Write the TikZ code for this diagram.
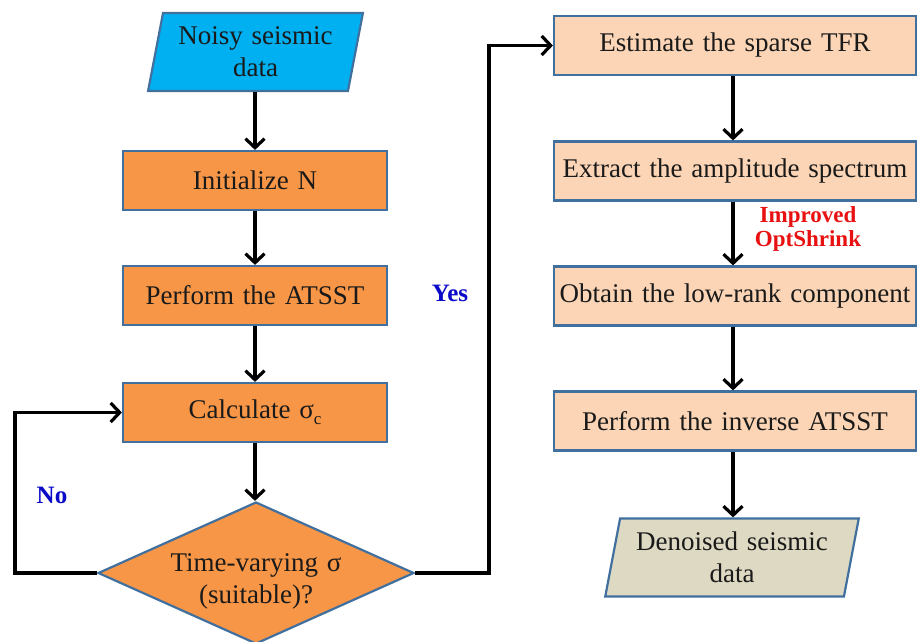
\documentclass[tikz,border=0pt]{standalone}
\usepackage{fontspec}
\setmainfont{Liberation Serif}
\usetikzlibrary{arrows.meta,shapes.geometric}
\definecolor{bordercol}{HTML}{41709F}
\definecolor{cyanfill}{HTML}{00B0F0}
\definecolor{orangefill}{HTML}{F79646}
\definecolor{peachfill}{HTML}{FBD5B5}
\definecolor{greyfill}{HTML}{DDD9C3}
\definecolor{txtcol}{HTML}{1A1A1A}
\definecolor{yesblue}{HTML}{0A0AC8}
\definecolor{optred}{HTML}{E81010}
\newcommand\mywsp{\spaceskip=0.33em plus 0.1em minus 0.05em\relax}
\begin{document}
\begin{tikzpicture}[x=1pt,y=-1pt,
  box/.style={draw=bordercol, line width=2.2pt, minimum height=59pt, inner sep=0pt,
    font=\fontsize{27}{32}\selectfont\mywsp, text=txtcol, align=center},
  lbox/.style={box, fill=orangefill, minimum width=264pt},
  rbox/.style={box, fill=peachfill, minimum width=362pt},
  para/.style={box, trapezium, trapezium left angle=76, trapezium right angle=104,
    minimum height=78pt, trapezium stretches=true},
  dia/.style={diamond, draw=bordercol, line width=2.2pt, fill=orangefill, inner sep=0pt,
    minimum width=316pt, minimum height=142pt},
  plain/.style={font=\fontsize{27}{32}\selectfont\mywsp, text=txtcol, align=center, inner sep=0pt},
  arr/.style={line width=3.2pt, -{Straight Barb[length=9pt,width=19pt]}},
  lab/.style={font=\fontsize{25}{28}\selectfont\bfseries, text=yesblue, inner sep=0pt},
  redlab/.style={font=\fontsize{23}{24}\selectfont\bfseries, text=optred, align=center, inner sep=0pt}
]
\useasboundingbox (0,0) rectangle (919,641);

% left column
\node[para, fill=cyanfill, minimum width=215pt] (noisy) at (255.5,52) {Noisy seismic\\data};
\node[lbox] (init) at (255,180.5) {Initialize N};
\node[lbox] (atsst) at (255,295.5) {Perform the ATSST};
\node[lbox] (calc) at (255,412.5) {Calculate σ\raisebox{-0.22em}{\fontsize{17}{17}\selectfont c}};
\node[dia] (dec) at (256,573) {};
\node[plain] (dectxt) at (256,581) {Time-varying σ\\(suitable)?};

% right column
\node[rbox] (est) at (735,45.5) {Estimate the sparse TFR};
\node[rbox] (ext) at (735,171) {Extract the amplitude spectrum};
\node[rbox] (obt) at (735,296) {Obtain the low-rank component};
\node[rbox] (inv) at (735,421) {Perform the inverse ATSST};
\node[para, fill=greyfill, minimum width=254pt] (den) at (732,557.5) {Denoised seismic\\data};

% labels
\node[lab] (yes) at (450,293) {Yes};
\node[lab] (no) at (52,495) {No};
\node[redlab] (opt) at (808,229) {Improved\\OptShrink};

\coordinate (nocorner1) at (15,573);
\coordinate (nocorner2) at (15,412.5);
\coordinate (yescorner1) at (489,573);
\coordinate (yescorner2) at (489,45.5);

% connectors
\draw[arr] (noisy.south -| init.north) -- (init.north);
\draw[arr] (init) -- (atsst);
\draw[arr] (atsst) -- (calc);
\draw[arr] (calc.south) -- (calc.south |- dec.north);
\draw[arr] (dec.west) -- (nocorner1) -- (nocorner2) -- (calc.west);
\draw[arr] (dec.east) -- (yescorner1) -- (yescorner2) -- (est.west);
\draw[arr] ([xshift=-2pt]est.south) -- ([xshift=-2pt]ext.north);
\draw[arr] ([xshift=-2pt]ext.south) -- ([xshift=-2pt]obt.north);
\draw[arr] ([xshift=-2pt]obt.south) -- ([xshift=-2pt]inv.north);
\draw[arr] ([xshift=-2pt]inv.south) -- ([xshift=-2pt]inv.south |- den.north);
\end{tikzpicture}
\end{document}
